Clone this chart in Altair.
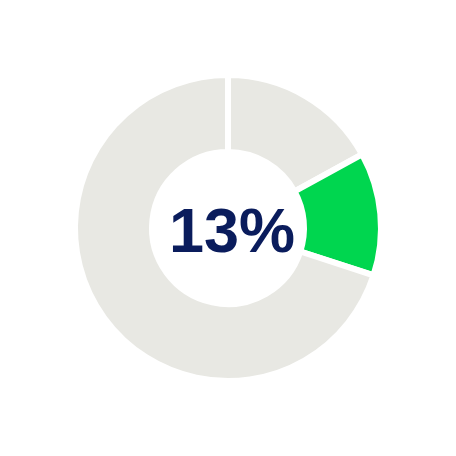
import altair as alt
import pandas as pd

segments = ["before", "highlight", "after"]
values = [17, 13, 70]
colors = ["#e8e8e3", "#00d64f", "#e8e8e3"]
label = "13%"

df = pd.DataFrame({"segment": segments, "value": values, "order": [0, 1, 2]})

arcs = alt.Chart(df).mark_arc(
    innerRadius=76, outerRadius=153, stroke="white", strokeWidth=6
).encode(
    theta=alt.Theta("value:Q", stack=True),
    order=alt.Order("order:Q"),
    color=alt.Color("segment:N", scale=alt.Scale(domain=segments, range=colors), legend=None),
)

text = alt.Chart(pd.DataFrame({"t": [label]})).mark_text(
    font="Liberation Sans", fontWeight="bold", fontSize=63, color="#0a1c5c",
    align="center", baseline="alphabetic"
).encode(
    text="t:N", x=alt.value(224), y=alt.value(244)
)

chart = alt.layer(arcs, text).properties(
    width=440, height=440, padding=0, autosize=alt.AutoSizeParams(type="none")
).configure_view(stroke=None)

chart.save("out.html", embed_options={"renderer": "svg", "actions": False})
